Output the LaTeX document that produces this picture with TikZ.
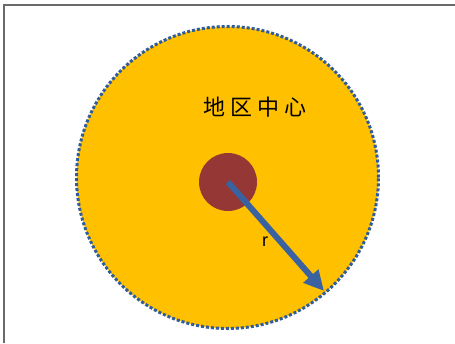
\documentclass[tikz,border=0pt]{standalone}
\usepackage{fontspec}
\setmainfont{Liberation Sans}
\newfontfamily\cjk{Noto Sans CJK SC}
\usetikzlibrary{arrows.meta}
\definecolor{gold}{HTML}{FFC000}
\definecolor{rim}{HTML}{2F5C9A}
\definecolor{arrowblue}{HTML}{3A62A0}
\definecolor{hub}{HTML}{953735}
\definecolor{frame}{HTML}{6A6A6A}
\tikzset{
  region/.style={circle, fill=gold, draw=rim, line width=3pt, dash pattern=on 3pt off 2pt, minimum size=302pt, inner sep=0pt},
  hubdot/.style={circle, fill=hub, minimum size=58pt, inner sep=0pt},
  radius arrow/.style={draw=arrowblue, line width=6pt, -{Triangle[length=20pt,width=19pt]}},
  lbl/.style={inner sep=0pt, text=black}
}
\begin{document}
\begin{tikzpicture}[x=1pt,y=-1pt]
\useasboundingbox (0,0) rectangle (455,343);
\fill[white] (0,0) rectangle (455,343);
\draw[frame, line width=2pt] (3.5,343) -- (3.5,4.5) -- (455,4.5);
\node[region] (big) at (227.5,177.5) {};
\node[hubdot] (hub) at (228,182) {};
\coordinate (tip) at (324,291);
\draw[radius arrow] (hub.center) -- (tip);
\node[lbl, font=\cjk\fontsize{22}{22}\selectfont] (name) at (255,107) {地\hspace{5pt}区\hspace{5pt}中\hspace{5pt}心};
\node[lbl, font=\fontsize{18}{18}\selectfont] (r) at (265,242) {r};
\end{tikzpicture}
\end{document}
